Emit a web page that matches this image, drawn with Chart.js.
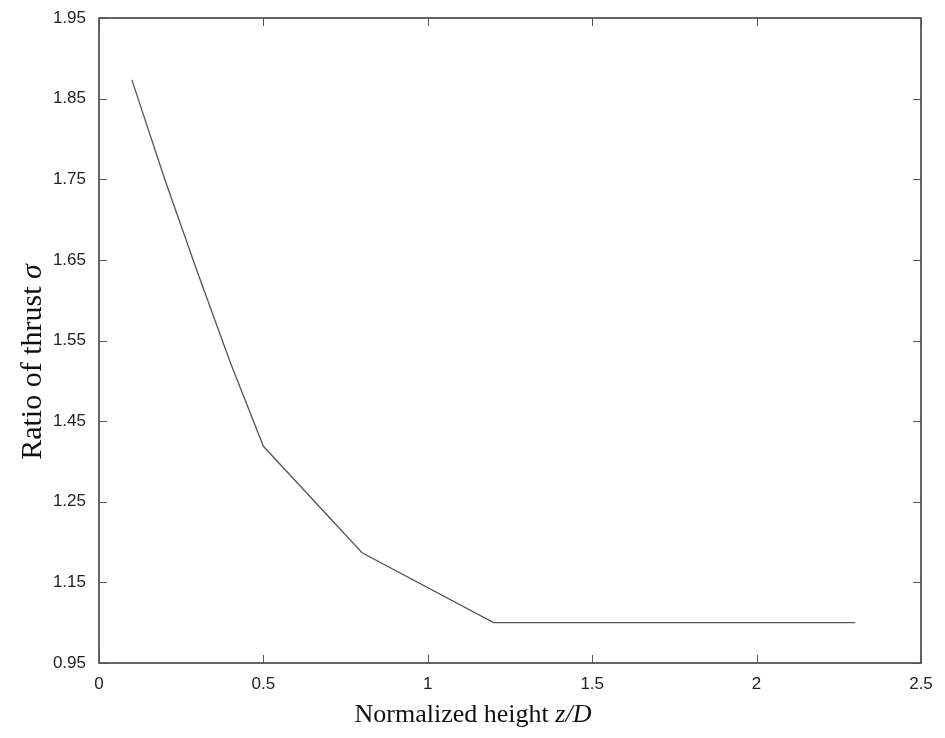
<!DOCTYPE html>
<html>
<head>
<meta charset="utf-8">
<script src="https://cdn.jsdelivr.net/npm/chart.js@4.4.1/dist/chart.umd.min.js"></script>
<style>
  html, body { margin: 0; padding: 0; background: #fff; }
  #wrap { width: 945px; height: 738px; }
</style>
</head>
<body>
<div id="wrap"><canvas id="Chart" width="945" height="738"></canvas></div>
<script>
// normalized height z/D
const heights = [0.1, 0.2, 0.3, 0.4, 0.5, 0.8, 1.2, 2.3];
// ratio of thrust (in the plot's own vertical units)
const thrustRatio = [1.854, 1.70, 1.555, 1.415, 1.286, 1.121, 1.0125, 1.0125];
// y tick labels as printed on the figure, bottom to top
const yTickLabels = ['0.95', '1.15', '1.25', '1.45', '1.55', '1.65', '1.75', '1.85', '1.95'];
const xTickLabels = ['0', '0.5', '1', '1.5', '2', '2.5'];

const axisColor = '#333';

// frame round the plot with inward tick marks on all four sides, plus axis titles
const framePlugin = {
  id: 'frame',
  afterDraw(chart) {
    const ctx = chart.ctx;
    const a = chart.chartArea;
    const xs = chart.scales.x, ys = chart.scales.y;
    ctx.save();
    ctx.strokeStyle = axisColor;
    ctx.lineWidth = 1.5;
    ctx.strokeRect(a.left, a.top, a.right - a.left, a.bottom - a.top);
    ctx.lineWidth = 1;
    ctx.strokeStyle = '#555';
    const len = 8;
    ctx.beginPath();
    xs.ticks.forEach(t => {
      const px = Math.round(xs.getPixelForValue(t.value)) + 0.5;
      ctx.moveTo(px, a.bottom); ctx.lineTo(px, a.bottom - len);
      ctx.moveTo(px, a.top); ctx.lineTo(px, a.top + len);
    });
    ys.ticks.forEach(t => {
      const py = Math.round(ys.getPixelForValue(t.value)) + 0.5;
      ctx.moveTo(a.left, py); ctx.lineTo(a.left + len, py);
      ctx.moveTo(a.right, py); ctx.lineTo(a.right - len, py);
    });
    ctx.stroke();

    // x title: "Normalized height " + italic "z/D"
    ctx.fillStyle = '#111';
    ctx.textBaseline = 'alphabetic';
    const plain = 'Normalized height ';
    const ital = 'z/D';
    ctx.font = '26px "Liberation Serif", "DejaVu Serif", serif';
    const w1 = ctx.measureText(plain).width;
    ctx.font = 'italic 26px "Liberation Serif", "DejaVu Serif", serif';
    const w2 = ctx.measureText(ital).width;
    let x0 = 473 - (w1 + w2) / 2;
    ctx.font = '26px "Liberation Serif", "DejaVu Serif", serif';
    ctx.fillText(plain, x0, 722);
    ctx.font = 'italic 26px "Liberation Serif", "DejaVu Serif", serif';
    ctx.fillText(ital, x0 + w1, 722);

    // y title: "Ratio of thrust " + italic sigma
    ctx.save();
    ctx.translate(41, 362);
    ctx.rotate(-Math.PI / 2);
    const yPlain = 'Ratio of thrust ';
    const yIt = 'σ';
    ctx.font = '30px "Liberation Serif", "DejaVu Serif", serif';
    const v1 = ctx.measureText(yPlain).width;
    ctx.font = 'italic 30px "Liberation Serif", "DejaVu Serif", serif';
    const v2 = ctx.measureText(yIt).width;
    const y0 = -(v1 + v2) / 2;
    ctx.font = '30px "Liberation Serif", "DejaVu Serif", serif';
    ctx.fillText(yPlain, y0, 0);
    ctx.font = 'italic 30px "Liberation Serif", "DejaVu Serif", serif';
    ctx.fillText(yIt, y0 + v1, 0);
    ctx.restore();
    ctx.restore();
  }
};

const ctx = document.getElementById('Chart');
const myChart = new Chart(ctx, {
  type: 'line',
  data: {
    datasets: [{
      label: 'Ratio of thrust',
      data: heights.map((h, i) => ({ x: h, y: thrustRatio[i] })),
      borderColor: '#555',
      borderWidth: 1.3,
      pointRadius: 0,
      tension: 0,
      fill: false
    }]
  },
  plugins: [framePlugin],
  options: {
    responsive: false,
    animation: false,
    layout: { padding: { top: 18, right: 24, left: 0, bottom: 0 } },
    plugins: {
      legend: { display: false },
      tooltip: { enabled: false }
    },
    scales: {
      x: {
        type: 'linear',
        min: 0,
        max: 2.5,
        ticks: {
          stepSize: 0.5,
          padding: 11,
          color: '#222',
          font: { family: '"Liberation Sans", Arial, sans-serif', size: 17 },
          maxRotation: 0,
          callback: (v, i) => xTickLabels[i]
        },
        grid: { display: false, drawTicks: false },
        border: { display: false },
        afterFit: s => { s.height = 75; s.paddingLeft = 0; s.paddingRight = 0; }
      },
      y: {
        type: 'linear',
        min: 0.95,
        max: 1.95,
        ticks: {
          stepSize: 0.125,
          padding: 13,
          color: '#222',
          font: { family: '"Liberation Sans", Arial, sans-serif', size: 17 },
          callback: (v, i) => yTickLabels[i]
        },
        grid: { display: false, drawTicks: false },
        border: { display: false },
        afterFit: s => { s.width = 99; s.paddingTop = 0; s.paddingBottom = 0; }
      }
    }
  }
});
</script>
</body>
</html>
